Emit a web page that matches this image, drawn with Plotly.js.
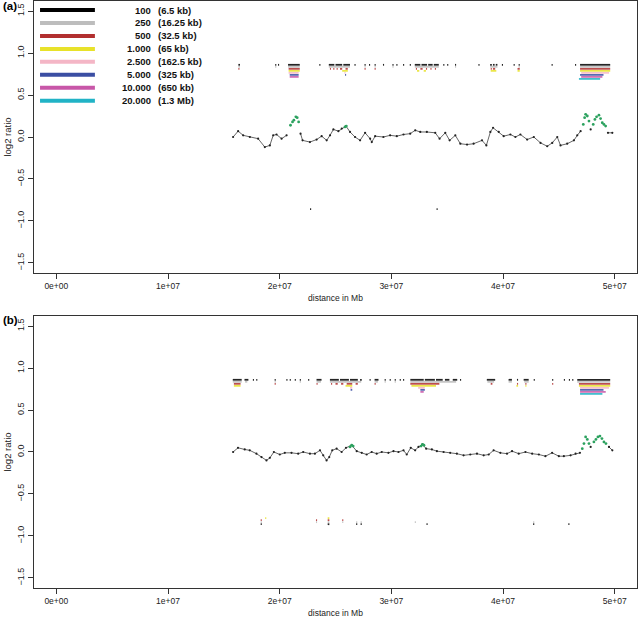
<!DOCTYPE html>
<html>
<head>
<meta charset="utf-8">
<script src="https://cdn.plot.ly/plotly-3.0.1.min.js"></script>
<style>
  html, body { margin: 0; padding: 0; background: #fff; }
  #chart { width: 644px; height: 622px; }
</style>
</head>
<body>
<div id="chart"></div>
<script>
// positions in Mb, values are log2 ratios
const xTicks = [0, 10, 20, 30, 40, 50];
const xTickText = ['0e+00', '1e+07', '2e+07', '3e+07', '4e+07', '5e+07'];
const yTicks = [-1.5, -1, -0.5, 0, 0.5, 1, 1.5];

const levelNames = ['100', '250', '500', '1.000', '2.500', '5.000', '10.000', '20.000'];
const levelSizes = ['(6.5 kb)', '(16.25 kb)', '(32.5 kb)', '(65 kb)', '(162.5 kb)', '(325 kb)', '(650 kb)', '(1.3 Mb)'];
const levelColors = ['#000000', '#bdbdbd', '#b22f2f', '#e8e22a', '#f4b6c6', '#3b4ea3', '#c857a8', '#21b3c6'];

// ---- panel (a) ----
const aX = [15.83,16.28,16.73,17.33,18.07,18.67,19.12,19.42,19.72,20.17,20.62,null,21.87,22.05,22.71,23.31,23.76,24.21,24.51,24.81,25.26,25.56,25.94,26.30,26.75,27.20,27.65,28.10,28.25,28.55,29.29,29.89,30.49,31.09,31.69,32.14,32.59,33.18,33.93,34.32,34.83,35.22,35.73,36.18,36.78,37.37,38.12,38.51,38.87,39.11,39.62,40.06,40.66,41.11,41.56,42.16,42.76,43.36,43.96,44.41,44.86,45.15,45.75,46.35,46.65,46.95,null,47.85,null,49.40,49.79];
const aY = [0.00,0.07,0.02,0.00,-0.02,-0.12,-0.10,0.02,0.03,-0.02,0.02,null,0.04,-0.04,-0.06,-0.03,0.01,-0.04,0.02,0.09,0.07,0.10,0.13,0.06,0.00,-0.04,0.05,-0.02,-0.06,0.01,0.00,0.02,0.01,0.03,0.04,0.08,0.06,0.06,0.05,-0.02,0.05,-0.04,0.02,-0.08,-0.09,-0.08,-0.04,-0.10,0.06,0.11,0.06,0.01,0.03,0.00,0.03,-0.03,0.00,-0.07,-0.11,-0.07,0.00,-0.10,-0.08,-0.04,0.02,0.07,null,0.09,null,0.05,0.05];
const aGainX = [20.97,21.15,21.27,21.45,21.57,21.70,25.85,25.97,47.19,47.31,47.40,47.55,47.70,48.08,48.23,48.38,48.59,48.74,48.89,49.04,49.19];
const aGainY = [0.14,0.18,0.20,0.24,0.23,0.18,0.12,0.13,0.15,0.23,0.27,0.25,0.19,0.15,0.21,0.24,0.26,0.22,0.17,0.15,0.13];
// called windows per level, [start, end] in Mb
const aUp = [
  [[16.3,16.45],[19.6,19.7],[19.85,19.95],[20.75,21.8],[23.55,23.65],[24.4,24.9],[25.0,25.6],[25.7,26.3],[26.7,26.8],[27.6,27.7],[28.0,28.1],[28.5,28.6],[29.25,29.35],[30.1,30.2],[30.45,30.55],[31.05,31.15],[31.65,31.75],[32.1,32.6],[32.7,33.2],[33.3,33.7],[33.8,34.25],[34.65,34.75],[35.0,35.1],[35.7,35.8],[37.8,37.9],[38.85,39.0],[39.1,39.25],[39.35,39.5],[39.9,40.0],[40.95,41.05],[41.4,41.5],[44.35,44.45],[46.45,46.55],[46.9,49.6]],
  [[16.3,16.45],[19.6,19.7],[20.75,21.8],[24.4,26.3],[27.6,27.7],[28.5,28.6],[30.1,30.2],[32.1,34.25],[35.7,35.8],[38.85,39.5],[41.4,41.5],[46.9,49.6]],
  [[16.3,16.4],[20.8,21.8],[24.5,24.6],[24.8,24.9],[25.1,25.2],[25.4,25.6],[25.9,26.1],[27.6,27.7],[28.5,28.6],[32.2,32.3],[32.6,32.8],[33.1,33.2],[33.5,33.6],[33.9,34.0],[38.9,39.0],[39.1,39.3],[41.3,41.5],[46.9,49.6]],
  [[20.8,21.8],[25.6,26.1],[32.3,32.5],[32.9,33.1],[38.9,39.4],[41.3,41.5],[46.9,49.6]],
  [[20.8,21.7],[25.8,25.9],[47.0,49.5]],
  [[20.9,21.7],[25.85,25.95],[46.9,49.0]],
  [[20.9,21.7],[47.0,48.9]],
  [[46.8,48.7]]
];
const aDown = [
  [[22.72,22.82],[34.05,34.15]],
  [], [], [], [], [], [], []
];

// ---- panel (b) ----
const bX = [15.83,16.27,16.87,17.32,17.92,18.37,18.82,19.12,19.48,20.01,20.46,21.06,21.66,22.11,22.71,23.16,23.61,23.90,24.20,24.44,24.71,25.10,25.55,25.94,26.45,26.90,27.35,27.79,28.24,28.69,29.14,29.74,30.19,30.64,31.09,31.38,31.74,32.13,32.43,32.79,33.12,33.63,34.08,34.68,35.27,35.87,36.47,37.07,37.67,38.27,38.72,39.16,39.76,40.36,40.81,41.41,42.01,42.61,43.21,43.80,44.40,45.00,45.45,46.05,46.50,46.89,null,47.85,null,49.49,49.79];
const bY = [0.00,0.05,0.03,0.02,-0.02,-0.06,-0.10,-0.07,0.00,-0.03,-0.01,-0.01,-0.02,0.00,-0.02,-0.02,0.02,-0.04,-0.10,-0.06,0.02,0.04,0.00,0.05,0.08,0.01,-0.01,-0.03,0.00,-0.02,0.00,-0.01,0.01,0.00,0.02,-0.03,0.05,0.02,0.06,0.09,0.04,0.03,0.01,0.00,-0.01,-0.02,-0.04,-0.03,-0.02,-0.04,-0.03,0.02,-0.01,-0.02,0.01,-0.02,0.00,-0.02,-0.03,-0.05,-0.01,-0.05,-0.05,-0.04,-0.02,-0.01,null,0.06,null,0.06,0.02];
const bGainX = [26.30,26.45,26.58,32.66,32.79,32.92,47.10,47.25,47.40,47.55,47.70,48.14,48.32,48.50,48.68,48.86,49.04,49.22];
const bGainY = [0.06,0.08,0.07,0.07,0.09,0.08,0.04,0.10,0.18,0.15,0.10,0.12,0.15,0.18,0.19,0.16,0.12,0.10];
const bUp = [
  [[15.8,16.6],[16.85,17.2],[17.6,17.7],[17.9,18.0],[19.55,19.65],[20.6,20.7],[20.9,21.0],[21.35,21.45],[21.8,21.9],[22.55,22.65],[23.3,23.75],[24.5,25.3],[25.4,26.2],[26.3,27.0],[27.2,27.35],[28.05,28.15],[28.5,28.85],[29.4,29.5],[29.85,29.95],[30.3,30.4],[30.75,30.85],[31.05,31.15],[31.7,32.9],[33.0,33.9],[34.0,34.6],[34.8,35.2],[35.5,35.9],[36.15,36.25],[38.55,39.3],[40.5,40.8],[41.25,41.35],[41.85,42.3],[42.75,42.85],[44.4,44.5],[45.45,45.55],[45.9,46.0],[46.2,46.3],[46.65,49.6]],
  [[15.8,16.6],[16.9,17.1],[19.55,19.65],[21.8,21.9],[23.3,23.7],[24.5,27.3],[28.5,28.8],[29.4,29.5],[30.3,30.4],[31.7,35.8],[38.6,39.2],[40.5,40.8],[41.9,42.3],[46.65,49.6]],
  [[15.9,16.5],[19.55,19.65],[23.3,23.4],[24.6,24.7],[25.0,25.2],[25.5,25.7],[26.0,26.5],[26.8,27.0],[28.5,28.6],[31.7,34.3],[38.9,39.05],[41.25,41.35],[42.0,42.1],[44.4,44.5],[46.8,49.6]],
  [[15.9,16.5],[25.9,26.5],[31.8,34.0],[41.2,41.35],[42.0,42.1],[46.8,49.6]],
  [[26.3,26.5],[32.4,33.0],[46.9,49.5]],
  [[26.35,26.5],[32.6,33.0],[46.9,49.0]],
  [[32.6,32.9],[46.9,49.2]],
  [[46.9,48.9]]
];
const bDown = [
  [[18.3,18.4],[24.3,24.45],[26.85,26.95],[27.25,27.35],[33.15,33.25],[42.7,42.8],[45.85,45.95]],
  [[18.3,18.4],[23.25,23.35],[24.3,24.45],[25.6,25.7],[26.85,26.95],[27.25,27.35],[32.1,32.2],[42.7,42.8]],
  [[18.3,18.4],[23.25,23.35],[24.3,24.45],[25.6,25.7]],
  [[18.7,18.8],[24.3,24.45]],
  [], [], [], []
];

const FONT = 'Liberation Sans, Arial, sans-serif';
const levelY = k => 0.86 - 0.024 * k;

function markTraces(marks, sign, xa, ya) {
  return marks.map((iv, k) => {
    const x = [], y = [];
    iv.forEach(([s, e]) => { x.push(s, e, null); y.push(sign * levelY(k), sign * levelY(k), null); });
    return { x, y, xaxis: xa, yaxis: ya, type: 'scatter', mode: 'lines', hoverinfo: 'skip', opacity: 0.85,
      line: { color: levelColors[k], width: 1.8 }, showlegend: false };
  }).filter(t => t.x.length);
}

function panel(px, py, gx, gy, up, down, xa, ya) {
  return [
    ...markTraces(up, 1, xa, ya),
    ...markTraces(down, -1, xa, ya),
    { x: px, y: py, xaxis: xa, yaxis: ya, type: 'scatter', mode: 'lines+markers', connectgaps: false,
      line: { color: '#555', width: 0.9 }, marker: { color: '#222', size: 2.2 }, showlegend: false },
    { x: gx, y: gy, xaxis: xa, yaxis: ya, type: 'scatter', mode: 'markers',
      marker: { color: '#2ca25f', size: 2.8 }, showlegend: false }
  ];
}

const traces = [
  ...panel(aX, aY, aGainX, aGainY, aUp, aDown, 'x', 'y'),
  ...panel(bX, bY, bGainX, bGainY, bUp, bDown, 'x2', 'y2')
];

const xStyle = {
  range: [-2, 52], tickvals: xTicks, ticktext: xTickText,
  showline: true, mirror: true, linecolor: '#333', linewidth: 1,
  ticks: 'outside', ticklen: 5, tickcolor: '#333', showgrid: false, zeroline: false,
  tickfont: { family: FONT, size: 8.5, color: '#222' }, automargin: false,
  title: { text: 'distance in Mb', font: { family: FONT, size: 8.5, color: '#222' }, standoff: 4 }
};
const yStyle = {
  range: [-1.62, 1.62], tickvals: yTicks, tickformat: '.1f', tickangle: -90,
  showline: true, mirror: true, linecolor: '#333', linewidth: 1,
  ticks: 'outside', ticklen: 5, tickcolor: '#333', showgrid: false, zeroline: false,
  tickfont: { family: FONT, size: 9, color: '#222' }, automargin: false,
  title: { text: 'log2 ratio', font: { family: FONT, size: 9.5, color: '#222' }, standoff: 3 }
};

// legend drawn inside panel (a)
const shapes = [], annotations = [];
levelColors.forEach((c, i) => {
  const yd = (273 - (10 + 12.96 * i)) / 272;
  shapes.push({ type: 'line', xref: 'x domain', yref: 'y domain', x0: 0.01, x1: 0.101, y0: yd, y1: yd,
    line: { color: c, width: 4 } });
  annotations.push({ xref: 'x domain', yref: 'y domain', x: 0.1975, y: yd, xanchor: 'right', yanchor: 'middle',
    text: levelNames[i], showarrow: false, font: { family: FONT, size: 9.5, weight: 'bold', color: '#111' } });
  annotations.push({ xref: 'x domain', yref: 'y domain', x: 0.2025, y: yd, xanchor: 'left', yanchor: 'middle',
    text: levelSizes[i], showarrow: false, font: { family: FONT, size: 9.5, weight: 'bold', color: '#111' } });
});
annotations.push({ xref: 'paper', yref: 'paper', x: -0.055, y: 0.992, xanchor: 'left', yanchor: 'middle',
  text: '(a)', showarrow: false, font: { family: FONT, size: 11.5, weight: 'bold', color: '#000' } });
annotations.push({ xref: 'paper', yref: 'paper', x: -0.055, y: 0.4566, xanchor: 'left', yanchor: 'middle',
  text: '(b)', showarrow: false, font: { family: FONT, size: 11.5, weight: 'bold', color: '#000' } });

const layout = {
  width: 644, height: 622,
  margin: { l: 34, r: 7, t: 1, b: 34 },
  paper_bgcolor: '#fff', plot_bgcolor: '#fff',
  showlegend: false,
  xaxis: Object.assign({}, xStyle, { anchor: 'y', domain: [0, 1] }),
  yaxis: Object.assign({}, yStyle, { anchor: 'x', domain: [0.5366, 1] }),
  xaxis2: Object.assign({}, xStyle, { anchor: 'y2', domain: [0, 1] }),
  yaxis2: Object.assign({}, yStyle, { anchor: 'x2', domain: [0, 0.4634] }),
  shapes, annotations
};

Plotly.newPlot('chart', traces, layout, { displayModeBar: false, staticPlot: true });
</script>
</body>
</html>
